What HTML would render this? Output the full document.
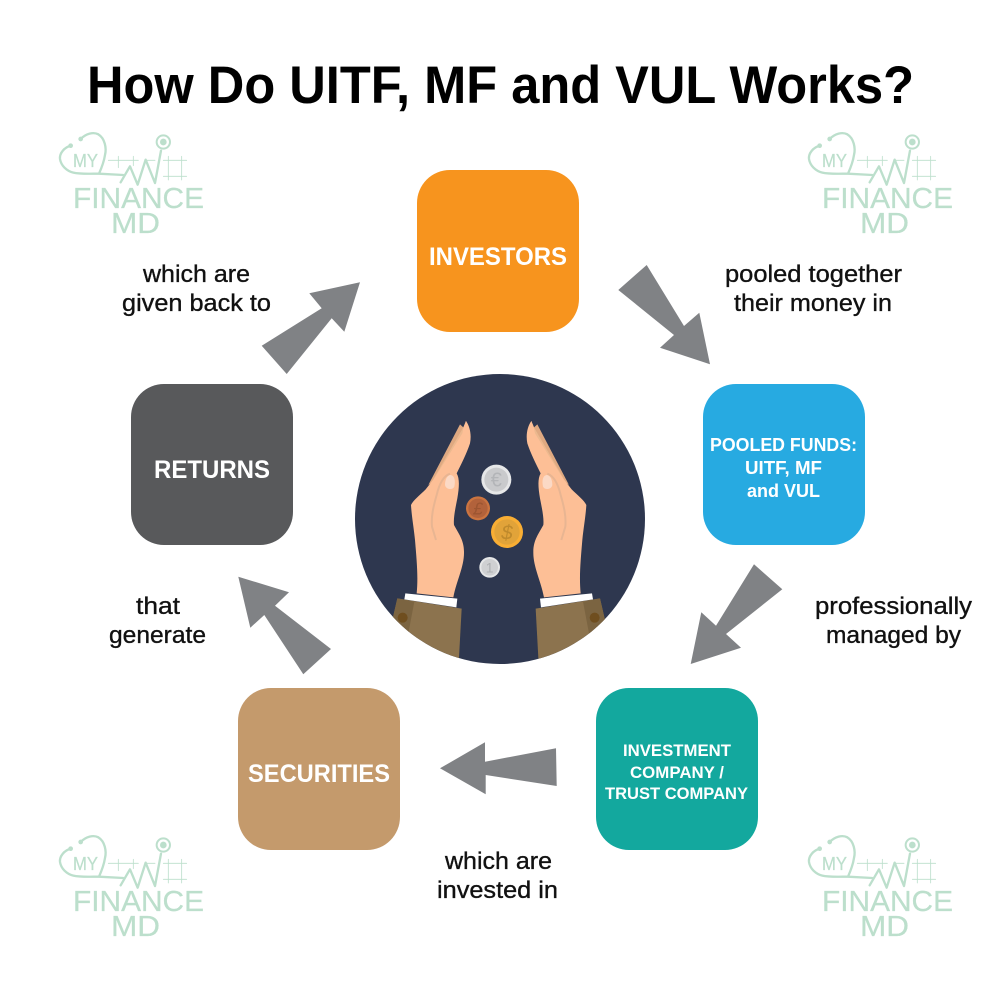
<!DOCTYPE html>
<html>
<head>
<meta charset="utf-8">
<style>
html,body{margin:0;padding:0;background:#fff}
svg{display:block}
text{font-family:"Liberation Sans",sans-serif}
.t{font-size:24px;fill:#111;stroke:#111;stroke-width:.35px}
.b{font-weight:bold;fill:#fff}
.wm text{fill:#bcdfcc;stroke:#bcdfcc;stroke-width:.25px}
.wl{fill:none;stroke:#bcdfcc;stroke-linecap:round;stroke-linejoin:round}
</style>
</head>
<body>
<svg width="1000" height="1000" viewBox="0 0 1000 1000" xmlns="http://www.w3.org/2000/svg">
<rect width="1000" height="1000" fill="#fff"/>
<defs>
<clipPath id="cc"><circle cx="435" cy="447" r="435"/></clipPath>
<g id="mark">
<path class="wl" stroke-width="7" d="M92 42C108 26 130 20 145 28C165 40 170 70 165 90C162 110 155 128 147 146L220 150M62 62C42 68 28 85 30 102C33 122 50 138 70 143C90 148 125 146 147 146"/>
<circle cx="92" cy="42" r="7" fill="#bcdfcc"/><circle cx="62" cy="62" r="7" fill="#bcdfcc"/>
<path class="wl" stroke-width="7" d="M212 172L240 124L263 179L287 104L315 174L333 77"/>
<circle cx="340" cy="51" r="20" fill="none" stroke="#bcdfcc" stroke-width="6"/><circle cx="340" cy="51" r="10" fill="#bcdfcc"/>
<path class="wl" stroke-width="2.5" d="M175 106H265M205 94V128M250 94V122M285 106H315M340 106H410M340 154H410M355 94V165M395 94V165"/>
</g>
<g id="hand">
<path fill="#dfa981" d="M315 163L325 172L333 153L345 200L240 330L220 345Z"/>
<path fill="#ecb98f" d="M325 172L333 153L345 200L250 330L236 326Z"/>
<path fill="#fdbf96" d="M333 153C345 170 350 195 345 220C335 250 320 280 305 310C314 325 313 350 307 385C300 420 295 445 297 465C310 490 327 510 327 545C328 590 305 630 295 682L185 670C190 620 185 570 180 510C176 470 170 440 168 405C175 390 195 375 212 358L240 322L322 190L325 175Z"/>
<path fill="none" stroke="#e8b592" stroke-width="6" d="M285 311C265 318 252 345 245 375C235 410 228 440 231 470L243 510"/>
<path fill="#fbd9c5" d="M285 315C298 315 302 330 298 350C292 362 272 358 270 345C270 330 275 318 285 315Z"/>
<path fill="#8c734e" d="M127 685L320 716L310 900L100 900L112 750Z"/>
<path fill="#7b6441" d="M127 685L178 695L160 790L100 790L112 750Z"/>
<circle cx="143" cy="743" r="15" fill="#6f4e1f"/>
<path fill="#fff" d="M151 670L307 686L304 712L148 688Z"/>
</g>
</defs>

<text x="87" y="103" font-size="52.5" font-weight="bold" fill="#000" textLength="827" lengthAdjust="spacingAndGlyphs">How Do UITF, MF and VUL Works?</text>

<g class="wm" transform="translate(0,0)"><use href="#mark" transform="translate(50,125) scale(.3333)"/><text x="73" y="208" font-size="29" textLength="131" lengthAdjust="spacingAndGlyphs">FINANCE</text><text x="111" y="233" font-size="29" textLength="49" lengthAdjust="spacingAndGlyphs">MD</text><text x="73" y="167" font-size="18" textLength="25" lengthAdjust="spacingAndGlyphs">MY</text></g>
<g class="wm" transform="translate(749,0)"><use href="#mark" transform="translate(50,125) scale(.3333)"/><text x="73" y="208" font-size="29" textLength="131" lengthAdjust="spacingAndGlyphs">FINANCE</text><text x="111" y="233" font-size="29" textLength="49" lengthAdjust="spacingAndGlyphs">MD</text><text x="73" y="167" font-size="18" textLength="25" lengthAdjust="spacingAndGlyphs">MY</text></g>
<g class="wm" transform="translate(0,703)"><use href="#mark" transform="translate(50,125) scale(.3333)"/><text x="73" y="208" font-size="29" textLength="131" lengthAdjust="spacingAndGlyphs">FINANCE</text><text x="111" y="233" font-size="29" textLength="49" lengthAdjust="spacingAndGlyphs">MD</text><text x="73" y="167" font-size="18" textLength="25" lengthAdjust="spacingAndGlyphs">MY</text></g>
<g class="wm" transform="translate(749,703)"><use href="#mark" transform="translate(50,125) scale(.3333)"/><text x="73" y="208" font-size="29" textLength="131" lengthAdjust="spacingAndGlyphs">FINANCE</text><text x="111" y="233" font-size="29" textLength="49" lengthAdjust="spacingAndGlyphs">MD</text><text x="73" y="167" font-size="18" textLength="25" lengthAdjust="spacingAndGlyphs">MY</text></g>

<rect x="417" y="170" width="162" height="162" rx="33" fill="#f7941e"/>
<rect x="703" y="384" width="162" height="161" rx="33" fill="#27aae1"/>
<rect x="596" y="688" width="162" height="162" rx="33" fill="#13a89e"/>
<rect x="238" y="688" width="162" height="162" rx="33" fill="#c49a6c"/>
<rect x="131" y="384" width="162" height="161" rx="33" fill="#58595b"/>

<text class="b" x="429" y="265" font-size="25" textLength="138" lengthAdjust="spacingAndGlyphs">INVESTORS</text>
<text class="b" x="154" y="478" font-size="25" textLength="116" lengthAdjust="spacingAndGlyphs">RETURNS</text>
<text class="b" x="248" y="782" font-size="25" textLength="142" lengthAdjust="spacingAndGlyphs">SECURITIES</text>
<text class="b" x="710" y="451" font-size="18" textLength="147" lengthAdjust="spacingAndGlyphs">POOLED FUNDS:</text>
<text class="b" x="745" y="474" font-size="18" textLength="77" lengthAdjust="spacingAndGlyphs">UITF, MF</text>
<text class="b" x="747" y="497" font-size="18" textLength="73" lengthAdjust="spacingAndGlyphs">and VUL</text>
<text class="b" x="623" y="756" font-size="17" textLength="108" lengthAdjust="spacingAndGlyphs">INVESTMENT</text>
<text class="b" x="630" y="778" font-size="17" textLength="94" lengthAdjust="spacingAndGlyphs">COMPANY /</text>
<text class="b" x="605" y="799" font-size="17" textLength="143" lengthAdjust="spacingAndGlyphs">TRUST COMPANY</text>

<g fill="#808285">
<polygon points="646.7,265 618.3,290 674,335 660,347.7 710,364.3 699.3,312.7 684,326"/>
<polygon points="360,282.3 309.3,293.3 321.7,308.3 261.7,345.7 286.7,374 331.7,318.3 344.3,331.7"/>
<polygon points="754,564.3 782.3,589.3 726,634 741,647.7 690.7,664 701.3,612.3 716,625.7"/>
<polygon points="440,768.3 485,742.3 485,761.7 556,748.3 556.7,786 485.7,775 485.7,794.3"/>
<polygon points="238.3,576.7 289,592.3 275,605.7 331,649 303.3,674.3 264.3,615 250.3,627.7"/>
</g>

<text class="t" x="143" y="282" textLength="107" lengthAdjust="spacingAndGlyphs">which are</text>
<text class="t" x="122" y="311" textLength="149" lengthAdjust="spacingAndGlyphs">given back to</text>
<text class="t" x="725" y="282" textLength="177" lengthAdjust="spacingAndGlyphs">pooled together</text>
<text class="t" x="734" y="311" textLength="158" lengthAdjust="spacingAndGlyphs">their money in</text>
<text class="t" x="815" y="614" textLength="157" lengthAdjust="spacingAndGlyphs">professionally</text>
<text class="t" x="826" y="643" textLength="135" lengthAdjust="spacingAndGlyphs">managed by</text>
<text class="t" x="136" y="614" textLength="44" lengthAdjust="spacingAndGlyphs">that</text>
<text class="t" x="109" y="643" textLength="97" lengthAdjust="spacingAndGlyphs">generate</text>
<text class="t" x="445" y="869" textLength="107" lengthAdjust="spacingAndGlyphs">which are</text>
<text class="t" x="437" y="898" textLength="121" lengthAdjust="spacingAndGlyphs">invested in</text>

<g transform="translate(355,370) scale(.33333)">
<circle cx="435" cy="447" r="435" fill="#2e374f"/>
<g clip-path="url(#cc)">
<use href="#hand"/>
<use href="#hand" transform="translate(862,0) scale(-1,1)"/>
</g>
<circle cx="424" cy="329" r="45" fill="#e6e7e8"/><circle cx="424" cy="329" r="36" fill="#c9cacc"/>
<text x="424" y="350" font-size="60" text-anchor="middle" fill="#b3b5b8">€</text>
<circle cx="369" cy="415" r="36" fill="#cb7440"/><circle cx="369" cy="415" r="29" fill="#b2623b"/>
<text x="369" y="434" font-size="52" font-style="italic" text-anchor="middle" fill="#9c5531">£</text>
<circle cx="456" cy="486" r="48" fill="#f9ae34"/><circle cx="456" cy="486" r="38" fill="#e1a339"/>
<text x="456" y="508" font-size="62" font-style="italic" text-anchor="middle" fill="#bf8a2c">$</text>
<circle cx="404" cy="592" r="31" fill="#e6e7e8"/><circle cx="404" cy="592" r="25" fill="#cfd0d2"/>
<text x="404" y="607" font-size="42" text-anchor="middle" fill="#aeb0b3">1</text>
</g>
</svg>
</body>
</html>
